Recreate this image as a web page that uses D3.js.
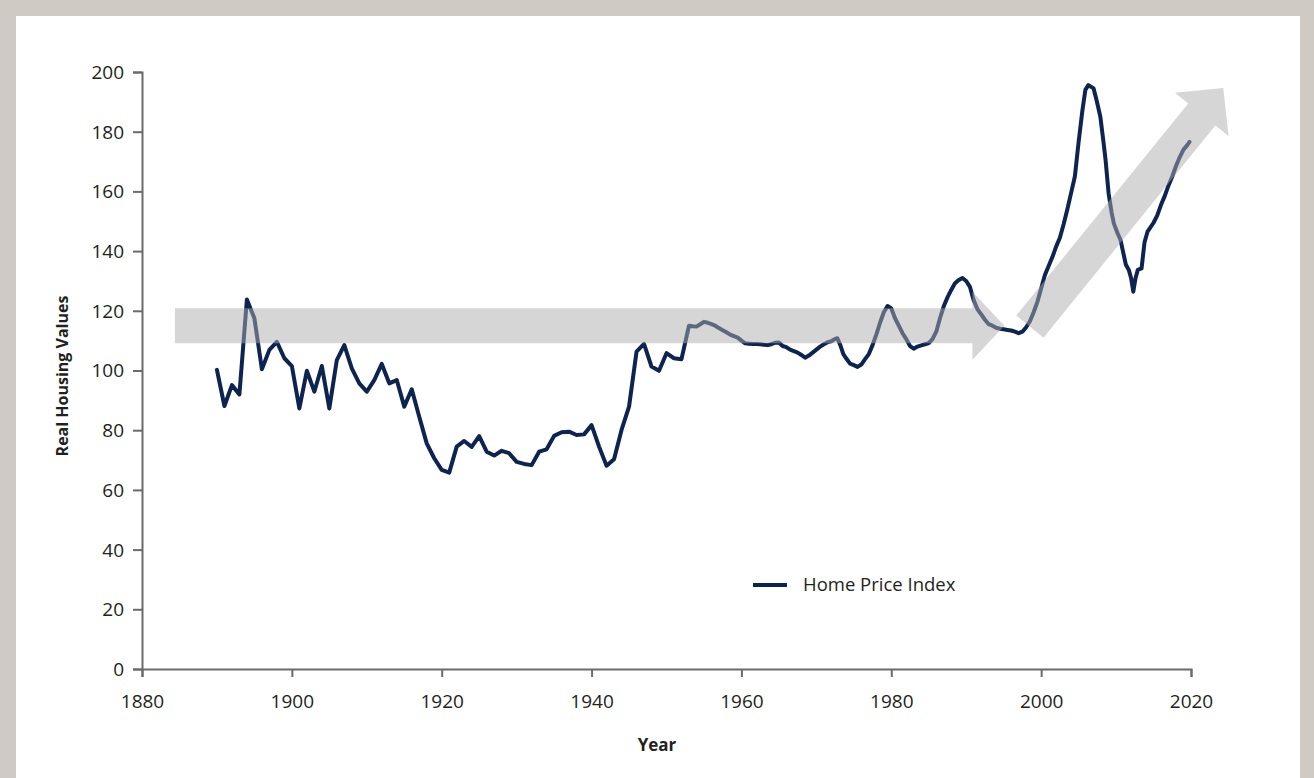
<!DOCTYPE html>
<html><head><meta charset="utf-8">
<script src="https://cdn.jsdelivr.net/npm/d3@7"></script>
<style>
html,body{margin:0;padding:0;background:#cfcac4;}
svg{display:block;}
</style></head>
<body>
<svg id="chart" width="1314" height="778"></svg>
<script>
// ---- data ----
const years = [
 1890,1891,1892,1893,1894,1895,1896,1897,1898,1899,
 1900,1901,1902,1903,1904,1905,1906,1907,1908,1909,
 1910,1911,1912,1913,1914,1915,1916,1917,1918,1919,
 1920,1921,1922,1923,1924,1925,1926,1927,1928,1929,
 1930,1931,1932,1933,1934,1935,1936,1937,1938,1939,
 1940,1941,1942,1943,1944,1945,1946,1947,1948,1949,
 1950,1951,1952,
 1953,1953.5,1954,1954.5,1955,1955.5,1956,1956.5,1957,1957.5,
 1958,1958.5,1959,1959.5,1960,1960.5,1961,1961.5,1962,1962.5,
 1963,1963.5,1964,1964.5,1965,1965.5,1966,1966.5,1967,1967.5,
 1968,1968.5,1969,1969.5,1970,1970.5,1971,1971.5,1972,1972.5,
 1972.8,1973.2,1973.6,1974,1974.5,1975,1975.5,1976,1976.5,1977,
 1977.5,1978,1978.5,1979,1979.5,1980,1980.5,1981,1981.5,1982,
 1982.5,1983,1983.5,1984,1984.5,1985,1985.5,1986,1986.5,1987,
 1987.5,1988,1988.5,1989,1989.5,1990,1990.5,1991,1991.5,1992,
 1992.5,1993,1993.5,1994,1994.5,1995,1995.5,1996,1996.5,1997,
 1997.5,1998,1998.5,1999,1999.5,2000,2000.5,2001,2001.5,2002,
 2002.5,2003,2003.5,2004,2004.5,2005,2005.5,2005.9,2006.3,2006.7,
 2007,2007.4,2007.9,2008.3,2008.6,2009,2009.4,2009.7,2010.2,2010.6,
 2011,2011.3,2011.7,2012,2012.3,2012.6,2012.9,2013.4,2013.8,2014.2,
 2015,2015.5,2016,2016.5,2017,2017.5,2018,2018.5,2019,2019.5,2019.8
];
const homePriceIndex = [
 100.2,88.1,95.1,92.0,123.8,117.5,100.4,106.9,109.6,104.1,
 101.5,87.3,99.9,92.9,101.5,87.3,103.5,108.5,100.7,95.7,
 92.9,96.8,102.2,95.7,96.8,87.9,93.7,84.5,75.6,70.6,
 66.7,65.8,74.5,76.4,74.4,78.0,72.8,71.5,73.1,72.3,
 69.4,68.7,68.3,72.8,73.6,78.1,79.3,79.5,78.4,78.6,
 81.7,74.5,68.1,70.3,80.1,87.9,106.3,108.9,101.3,99.9,
 105.8,104.1,103.8,
 115.0,114.8,114.7,115.5,116.3,116.0,115.5,115.0,114.2,113.5,
 112.8,112.0,111.5,111.0,110.0,109.1,109.0,108.9,108.9,108.8,
 108.6,108.5,108.8,109.3,109.4,108.2,107.8,107.0,106.5,106.0,
 105.2,104.3,105.0,106.0,107.0,108.0,108.8,109.5,109.8,110.6,
 110.8,108.5,105.5,104.0,102.3,101.8,101.2,102.0,103.8,105.5,
 108.5,112.0,116.0,119.5,121.6,120.8,117.5,115.0,112.5,110.5,
 108.2,107.3,108.0,108.4,108.8,109.2,110.5,113.0,117.5,121.5,
 124.5,127.0,129.2,130.3,131.0,130.0,128.0,123.5,120.5,118.8,
 117.0,115.5,115.0,114.3,114.0,113.8,113.6,113.4,113.0,112.5,
 113.0,114.5,116.5,119.5,123.0,127.5,132.0,135.0,138.0,141.5,
 144.5,149.0,154.0,159.5,165.0,176.5,187.0,194.0,195.6,195.0,
 194.5,190.5,185.0,177.0,170.5,159.4,153.0,149.3,146.0,143.7,
 139.0,135.5,133.7,131.0,126.4,131.0,133.7,134.2,143.0,146.5,
 149.5,152.0,155.5,158.5,162.0,165.0,168.5,171.5,174.0,175.5,176.6
];
const xTicks = [1880,1900,1920,1940,1960,1980,2000,2020];
const yTicks = [0,20,40,60,80,100,120,140,160,180,200];
const seriesName = "Home Price Index";
const xTitle = "Year";
const yTitle = "Real Housing Values";
// annotation arrows in data units: [startYear, startValue, tipYear, tipValue]
const flatArrow = [1884.4, 114.95, 1995.1, 114.95];
const riseArrow = [1998.5, 114.7, 2024.3, 194.6];

// ---- drawing ----
const svg = d3.select("#chart");
const font = "'Open Sans', 'Noto Sans', sans-serif";
const lineColor = "#0d2450";
const axisColor = "#6b6b6b";

svg.append("rect").attr("x",16).attr("y",16).attr("width",1284).attr("height",770).attr("fill","#ffffff");

const x = d3.scaleLinear().domain([1880,2020]).range([142,1191]);
const y = d3.scaleLinear().domain([0,200]).range([669,72]);

const data = years.map((yr,i)=>({yr, v: homePriceIndex[i]}));

// axes
const xAxis = svg.append("g").attr("transform",`translate(0,${y(0)})`)
  .call(d3.axisBottom(x).tickValues(xTicks).tickFormat(d3.format("d")).tickSize(8).tickPadding(18));
const yAxis = svg.append("g").attr("transform",`translate(${x(1880)},0)`)
  .call(d3.axisLeft(y).tickValues(yTicks).tickSize(9).tickPadding(9));
[xAxis,yAxis].forEach(g=>{
  g.selectAll(".domain").attr("stroke",axisColor).attr("stroke-width",2);
  g.selectAll(".tick line").attr("stroke",axisColor).attr("stroke-width",2);
  g.selectAll(".tick text").attr("fill","#231f20").style("font-family",font).style("font-size","19px");
});
yAxis.selectAll(".tick text").attr("dy","0.34em");

// line
const line = d3.line().x(d=>x(d.yr)).y(d=>y(d.v)).curve(d3.curveLinear);
svg.append("path").datum(data).attr("d",line)
  .attr("fill","none").attr("stroke",lineColor).attr("stroke-width",4)
  .attr("stroke-linejoin","round").attr("stroke-linecap","round");

// arrows (semi-transparent, drawn above the line)
function arrowPath(a, bodyHalf, headHalf, headLen){
  const x0=x(a[0]), y0=y(a[1]), x1=x(a[2]), y1=y(a[3]);
  const dx=x1-x0, dy=y1-y0, L=Math.hypot(dx,dy);
  const ux=dx/L, uy=dy/L, px=-uy, py=ux;
  const bx=x1-ux*headLen, by=y1-uy*headLen;
  const pts=[
    [x0+px*bodyHalf, y0+py*bodyHalf],
    [bx+px*bodyHalf, by+py*bodyHalf],
    [bx+px*headHalf, by+py*headHalf],
    [x1,y1],
    [bx-px*headHalf, by-py*headHalf],
    [bx-px*bodyHalf, by-py*bodyHalf],
    [x0-px*bodyHalf, y0-py*bodyHalf]
  ];
  return "M"+pts.map(p=>p.join(",")).join("L")+"Z";
}
svg.append("path").attr("d",arrowPath(flatArrow,17.5,34,32)).attr("fill","#adadad").attr("fill-opacity",0.5);
svg.append("path").attr("d",arrowPath(riseArrow,17.5,34.5,34)).attr("fill","#adadad").attr("fill-opacity",0.5);

// legend
svg.append("line").attr("x1",753).attr("x2",787).attr("y1",585).attr("y2",585)
  .attr("stroke",lineColor).attr("stroke-width",4);
svg.append("text").attr("x",803).attr("y",585).attr("dy","0.35em")
  .style("font-family",font).style("font-size","18.5px").attr("fill","#231f20").text(seriesName);

// axis titles
svg.append("text").attr("x",657).attr("y",745).attr("dy","0.35em").attr("text-anchor","middle")
  .style("font-family",font).style("font-size","17px").style("font-weight","bold").attr("fill","#231f20").text(xTitle);
svg.append("text").attr("transform","translate(62,376) rotate(-90)").attr("dy","0.35em").attr("text-anchor","middle")
  .style("font-family",font).style("font-size","16px").style("font-weight","bold").attr("fill","#231f20").text(yTitle);
</script>
</body></html>
